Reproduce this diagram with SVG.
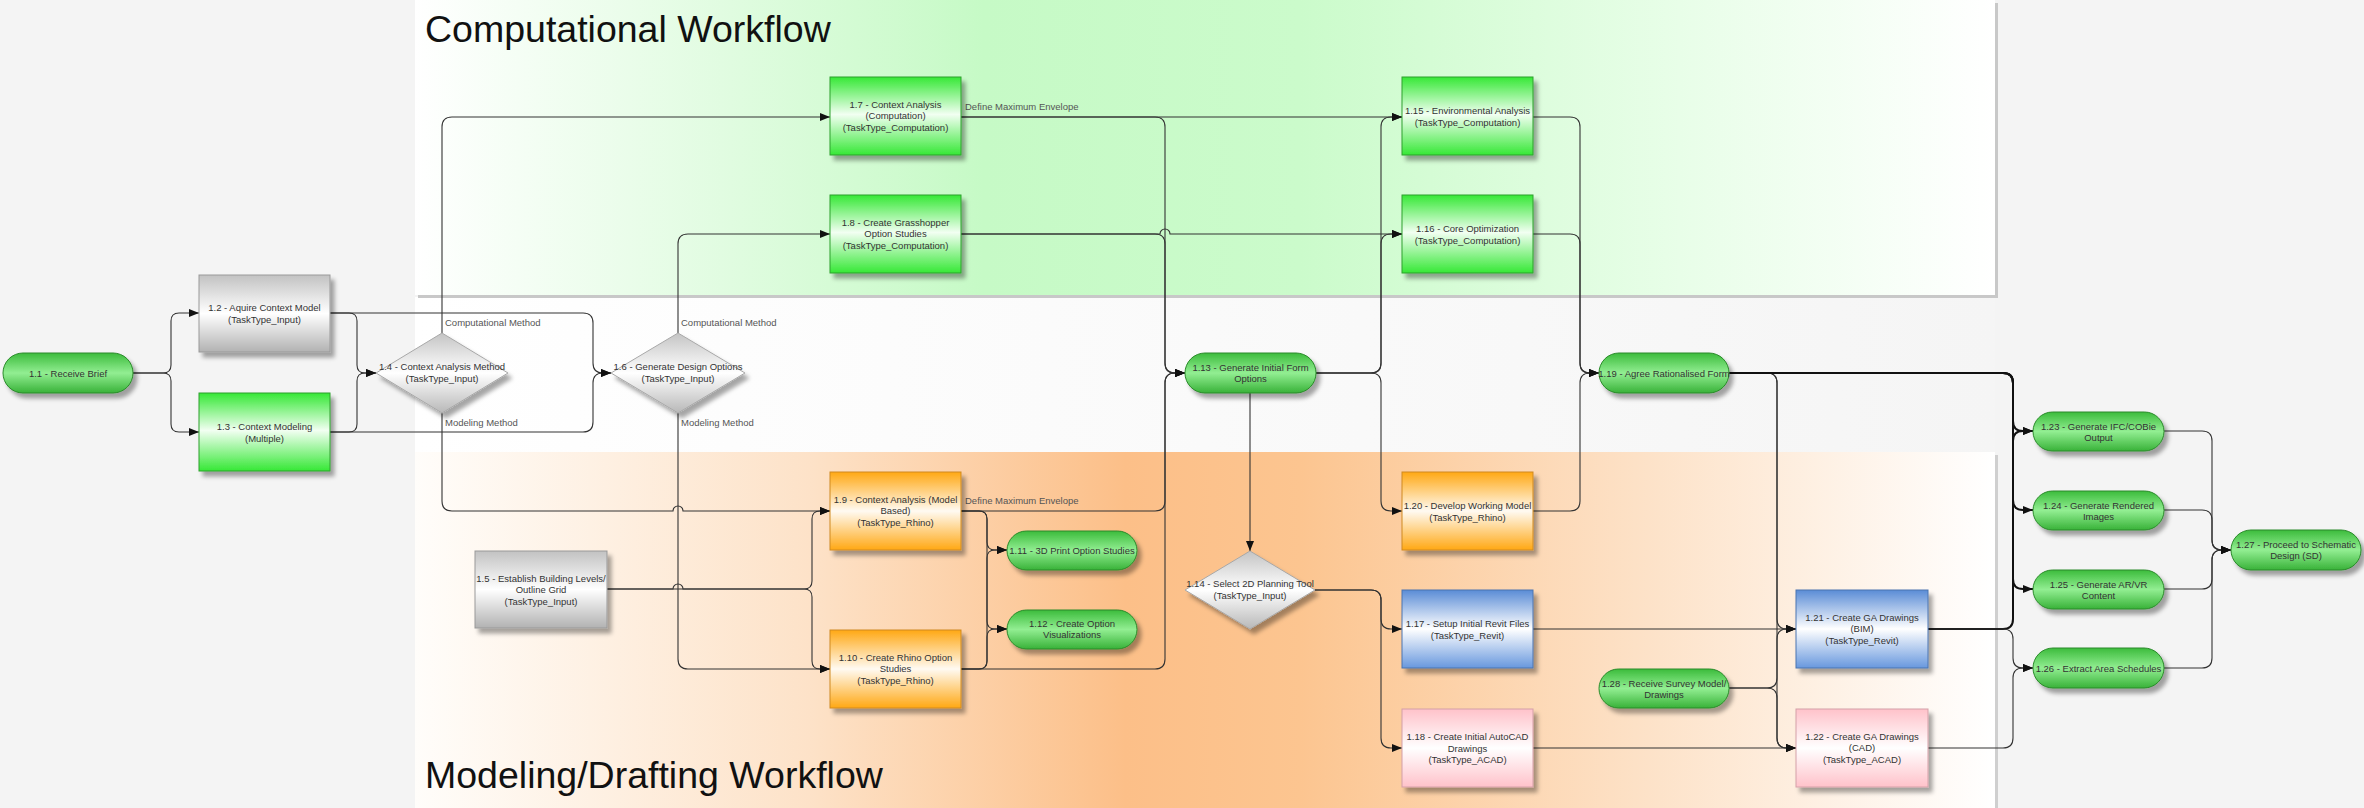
<svg xmlns="http://www.w3.org/2000/svg" width="2364" height="808" viewBox="0 0 2364 808">
<defs>
<linearGradient id="laneG" x1="0" y1="0" x2="1" y2="0">
<stop offset="0" stop-color="#ffffff"/><stop offset="0.2" stop-color="#e0fce0"/><stop offset="0.36" stop-color="#c6fac6"/><stop offset="0.56" stop-color="#cbfbcb"/><stop offset="0.8" stop-color="#e8fee8"/><stop offset="1" stop-color="#ffffff"/>
</linearGradient>
<linearGradient id="laneO" x1="0" y1="0" x2="1" y2="0">
<stop offset="0" stop-color="#fffdfa"/><stop offset="0.25" stop-color="#fde2c8"/><stop offset="0.45" stop-color="#fcbf88"/><stop offset="0.56" stop-color="#fcc590"/><stop offset="0.78" stop-color="#fde2c8"/><stop offset="1" stop-color="#ffffff"/>
</linearGradient>
<linearGradient id="laneM" x1="0" y1="0" x2="1" y2="0">
<stop offset="0" stop-color="#ffffff"/><stop offset="1" stop-color="#f5f5f5"/>
</linearGradient>
<linearGradient id="gGreen" x1="0" y1="0" x2="0" y2="1"><stop offset="0" stop-color="#36e836"/><stop offset="0.48" stop-color="#f2fff2"/><stop offset="1" stop-color="#36e836"/></linearGradient>
<linearGradient id="gGray" x1="0" y1="0" x2="0" y2="1"><stop offset="0" stop-color="#c2c2c2"/><stop offset="0.5" stop-color="#ffffff"/><stop offset="1" stop-color="#b2b2b2"/></linearGradient>
<linearGradient id="gOrange" x1="0" y1="0" x2="0" y2="1"><stop offset="0" stop-color="#ffa814"/><stop offset="0.5" stop-color="#fffaf2"/><stop offset="1" stop-color="#ffa814"/></linearGradient>
<linearGradient id="gBlue" x1="0" y1="0" x2="0" y2="1"><stop offset="0" stop-color="#5a8cd6"/><stop offset="0.5" stop-color="#ffffff"/><stop offset="1" stop-color="#6898de"/></linearGradient>
<linearGradient id="gPink" x1="0" y1="0" x2="0" y2="1"><stop offset="0" stop-color="#ffc2ca"/><stop offset="0.5" stop-color="#ffffff"/><stop offset="1" stop-color="#ffc2ca"/></linearGradient>
<linearGradient id="gPill" x1="0" y1="0" x2="0" y2="1"><stop offset="0" stop-color="#3cbc3c"/><stop offset="0.5" stop-color="#92ee92"/><stop offset="1" stop-color="#38b238"/></linearGradient>
<linearGradient id="gDia" x1="0" y1="0" x2="0" y2="1"><stop offset="0" stop-color="#c4c4c4"/><stop offset="0.5" stop-color="#ffffff"/><stop offset="1" stop-color="#b8b8b8"/></linearGradient>
<filter id="sh" x="-10%" y="-10%" width="130%" height="140%"><feDropShadow dx="4" dy="5" stdDeviation="2" flood-color="#000" flood-opacity="0.35"/></filter>
<marker id="ar" markerUnits="userSpaceOnUse" markerWidth="11" markerHeight="10" refX="10" refY="5" orient="auto"><path d="M0,1 L10,5 L0,9 z" fill="#111"/></marker>
</defs>
<style>
.n text{font-family:"Liberation Sans",Arial,sans-serif;font-size:9.5px;fill:#333;text-anchor:middle}
.lbl{font-family:"Liberation Sans",Arial,sans-serif;font-size:9.5px;fill:#555}
.title{font-family:"Liberation Sans",Arial,sans-serif;font-size:37.5px;fill:#111}
.green{fill:url(#gGreen);stroke:#2f9f2f;stroke-width:1;filter:url(#sh)}
.gray{fill:url(#gGray);stroke:#999;stroke-width:1;filter:url(#sh)}
.orange{fill:url(#gOrange);stroke:#d08a20;stroke-width:1;filter:url(#sh)}
.blue{fill:url(#gBlue);stroke:#4a74b0;stroke-width:1;filter:url(#sh)}
.pink{fill:url(#gPink);stroke:#d4a0a8;stroke-width:1;filter:url(#sh)}
.pill{fill:url(#gPill);stroke:#2a8a2a;stroke-width:1;filter:url(#sh)}
.dia{fill:url(#gDia);stroke:#a8a8a8;stroke-width:1;filter:url(#sh)}
#edges path{fill:none;stroke:#333;stroke-width:1.1}
#edges path.a{marker-end:url(#ar)}
#edges path.thick{stroke:#111;stroke-width:2}
</style>
<rect x="0" y="0" width="2364" height="808" fill="#f4f4f4"/>
<g id="lanes">
<rect x="415" y="297" width="1580" height="155" fill="url(#laneM)"/>
<rect x="418" y="3" width="1580" height="295" fill="#c8c8c8"/>
<rect x="415" y="0" width="1580" height="295" fill="url(#laneG)"/>
<rect x="418" y="455" width="1580" height="353" fill="#cfcfcf"/>
<rect x="415" y="452" width="1580" height="356" fill="url(#laneO)"/>
<text class="title" x="425" y="42">Computational Workflow</text>
<text class="title" x="425" y="788">Modeling/Drafting Workflow</text>
</g>
<g id="edges">
<path class="a" d="M133,373 H163 Q171,373 171,365 V321 Q171,313 179,313 H199"/>
<path class="a" d="M133,373 H163 Q171,373 171,381 V424 Q171,432 179,432 H199"/>
<path class="a" d="M330,313 H349 Q357,313 357,321 V365 Q357,373 365,373 H376"/>
<path class="a" d="M330,432 H349 Q357,432 357,424 V381 Q357,373 365,373 H376"/>
<path class="a" d="M330,313 H583 Q593,313 593,323 V363 Q593,373 603,373 H611"/>
<path class="a" d="M330,432 H583 Q593,432 593,422 V383 Q593,373 603,373 H611"/>
<path class="a" d="M442,333 V127 Q442,117 452,117 H830"/>
<path class="a" d="M442,413 V501 Q442,511 452,511 H673 A5,5 0 0 1 683,511 H830"/>
<path class="a" d="M678,333 V244 Q678,234 688,234 H830"/>
<path class="a" d="M678,413 V659 Q678,669 688,669 H830"/>
<path class="a" d="M607,589 H673 A5,5 0 0 1 683,589 H804 Q812,589 812,581 V519 Q812,511 820,511 H830"/>
<path class="a" d="M607,589 H804 Q812,589 812,597 V661 Q812,669 820,669 H830"/>
<path class="a" d="M961,117 H1155 Q1165,117 1165,127 V363 Q1165,373 1175,373 H1185"/>
<path class="a" d="M961,117 H1402"/>
<path class="a" d="M961,234 H1155 Q1165,234 1165,244 V363 Q1165,373 1175,373 H1185"/>
<path class="a" d="M961,234 H1160 A5,5 0 0 1 1170,234 H1402"/>
<path class="a" d="M961,511 H1155 Q1165,511 1165,501 V383 Q1165,373 1175,373 H1185"/>
<path class="a" d="M961,669 H1155 Q1165,669 1165,659 V383 Q1165,373 1175,373 H1185"/>
<path class="a" d="M961,511 H979 Q987,511 987,519 V542 Q987,550 995,550 H1007"/>
<path class="a" d="M961,511 H979 Q987,511 987,519 V621 Q987,629 995,629 H1007"/>
<path class="a" d="M961,669 H979 Q987,669 987,661 V558 Q987,550 995,550 H1007"/>
<path class="a" d="M961,669 H979 Q987,669 987,661 V637 Q987,629 995,629 H1007"/>
<path class="a" d="M1250,393 V551"/>
<path class="a" d="M1316,373 H1371 Q1381,373 1381,363 V127 Q1381,117 1391,117 H1402"/>
<path class="a" d="M1316,373 H1371 Q1381,373 1381,363 V244 Q1381,234 1391,234 H1402"/>
<path class="a" d="M1316,373 H1371 Q1381,373 1381,383 V501 Q1381,511 1391,511 H1402"/>
<path class="a" d="M1315,590 H1371 Q1381,590 1381,600 V619 Q1381,629 1391,629 H1402"/>
<path class="a" d="M1315,590 H1371 Q1381,590 1381,600 V738 Q1381,748 1391,748 H1402"/>
<path class="a" d="M1533,117 H1570 Q1580,117 1580,127 V363 Q1580,373 1590,373 H1599"/>
<path class="a" d="M1533,234 H1570 Q1580,234 1580,244 V363 Q1580,373 1590,373 H1599"/>
<path class="a" d="M1533,511 H1570 Q1580,511 1580,501 V383 Q1580,373 1590,373 H1599"/>
<path class="a" d="M1729,373 H1767 Q1777,373 1777,383 V619 Q1777,629 1787,629 H1796"/>
<path class="a" d="M1729,373 H1767 Q1777,373 1777,383 V738 Q1777,748 1787,748 H1796"/>
<path class="a" d="M1533,629 H1796"/>
<path class="a" d="M1533,748 H1796"/>
<path class="a" d="M1729,688 H1767 Q1777,688 1777,678 V639 Q1777,629 1787,629 H1796"/>
<path class="a" d="M1729,688 H1767 Q1777,688 1777,698 V738 Q1777,748 1787,748 H1796"/>
<path class="a thick" d="M1729,373 H2003 Q2013,373 2013,383 V421 Q2013,431 2023,431 H2033"/>
<path class="a thick" d="M1729,373 H2003 Q2013,373 2013,383 V500 Q2013,510 2023,510 H2033"/>
<path class="a thick" d="M1729,373 H2003 Q2013,373 2013,383 V579 Q2013,589 2023,589 H2033"/>
<path class="a thick" d="M1928,629 H2003 Q2013,629 2013,619 V441 Q2013,431 2023,431 H2033"/>
<path class="a" d="M1928,629 H2003 Q2013,629 2013,639 V658 Q2013,668 2023,668 H2033"/>
<path class="a" d="M1928,748 H2003 Q2013,748 2013,738 V678 Q2013,668 2023,668 H2033"/>
<path class="a" d="M2164,431 H2202 Q2212,431 2212,441 V540 Q2212,550 2222,550 H2231"/>
<path class="a" d="M2164,510 H2202 Q2212,510 2212,520 V540 Q2212,550 2222,550 H2231"/>
<path class="a" d="M2164,589 H2202 Q2212,589 2212,579 V560 Q2212,550 2222,550 H2231"/>
<path class="a" d="M2164,668 H2202 Q2212,668 2212,658 V560 Q2212,550 2222,550 H2231"/>
<text class="lbl" x="445" y="326">Computational Method</text>
<text class="lbl" x="445" y="426">Modeling Method</text>
<text class="lbl" x="681" y="326">Computational Method</text>
<text class="lbl" x="681" y="426">Modeling Method</text>
<text class="lbl" x="965" y="110">Define Maximum Envelope</text>
<text class="lbl" x="965" y="504">Define Maximum Envelope</text>
</g>
<g id="n1_1" class="n"><rect class="pill" x="3" y="353" width="130" height="40" rx="20"/><text x="68" y="376.5">1.1 - Receive Brief</text></g>
<g id="n1_2" class="n"><rect class="gray" x="199" y="275" width="131" height="77"/><text x="264.5" y="311"><tspan x="264.5">1.2 - Aquire Context Model</tspan><tspan x="264.5" y="323">(TaskType_Input)</tspan></text></g>
<g id="n1_3" class="n"><rect class="green" x="199" y="393" width="131" height="78"/><text x="264.5" y="429.5"><tspan x="264.5">1.3 - Context Modeling</tspan><tspan x="264.5" y="441.5">(Multiple)</tspan></text></g>
<g id="n1_4" class="n"><polygon class="dia" points="376,373 442,333 508,373 442,413"/><text x="442" y="370"><tspan x="442">1.4 - Context Analysis Method</tspan><tspan x="442" y="382">(TaskType_Input)</tspan></text></g>
<g id="n1_6" class="n"><polygon class="dia" points="611,373 678,333 745,373 678,413"/><text x="678" y="370"><tspan x="678">1.6 - Generate Design Options</tspan><tspan x="678" y="382">(TaskType_Input)</tspan></text></g>
<g id="n1_5" class="n"><rect class="gray" x="475" y="551" width="132" height="77"/><text x="541" y="581.5"><tspan x="541">1.5 - Establish Building Levels/</tspan><tspan x="541" y="593">Outline Grid</tspan><tspan x="541" y="605">(TaskType_Input)</tspan></text></g>
<g id="n1_7" class="n"><rect class="green" x="830" y="77" width="131" height="78"/><text x="895.5" y="107.5"><tspan x="895.5">1.7 - Context Analysis</tspan><tspan x="895.5" y="119">(Computation)</tspan><tspan x="895.5" y="130.5">(TaskType_Computation)</tspan></text></g>
<g id="n1_8" class="n"><rect class="green" x="830" y="195" width="131" height="78"/><text x="895.5" y="225.5"><tspan x="895.5">1.8 - Create Grasshopper</tspan><tspan x="895.5" y="237">Option Studies</tspan><tspan x="895.5" y="248.5">(TaskType_Computation)</tspan></text></g>
<g id="n1_9" class="n"><rect class="orange" x="830" y="472" width="131" height="78"/><text x="895.5" y="502.5"><tspan x="895.5">1.9 - Context Analysis (Model</tspan><tspan x="895.5" y="514">Based)</tspan><tspan x="895.5" y="525.5">(TaskType_Rhino)</tspan></text></g>
<g id="n1_10" class="n"><rect class="orange" x="830" y="630" width="131" height="78"/><text x="895.5" y="660.5"><tspan x="895.5">1.10 - Create Rhino Option</tspan><tspan x="895.5" y="672">Studies</tspan><tspan x="895.5" y="683.5">(TaskType_Rhino)</tspan></text></g>
<g id="n1_11" class="n"><rect class="pill" x="1007" y="531" width="130" height="39" rx="19.5"/><text x="1072" y="553.5">1.11 - 3D Print Option Studies</text></g>
<g id="n1_12" class="n"><rect class="pill" x="1007" y="610" width="130" height="39" rx="19.5"/><text x="1072" y="627"><tspan x="1072">1.12 - Create Option</tspan><tspan x="1072" y="638">Visualizations</tspan></text></g>
<g id="n1_13" class="n"><rect class="pill" x="1185" y="353" width="131" height="40" rx="20"/><text x="1250.5" y="371"><tspan x="1250.5">1.13 - Generate Initial Form</tspan><tspan x="1250.5" y="382">Options</tspan></text></g>
<g id="n1_14" class="n"><polygon class="dia" points="1185,590 1250,551 1315,590 1250,629"/><text x="1250" y="586.5"><tspan x="1250">1.14 - Select 2D Planning Tool</tspan><tspan x="1250" y="598.5">(TaskType_Input)</tspan></text></g>
<g id="n1_15" class="n"><rect class="green" x="1402" y="77" width="131" height="78"/><text x="1467.5" y="114"><tspan x="1467.5">1.15 - Environmental Analysis</tspan><tspan x="1467.5" y="125.5">(TaskType_Computation)</tspan></text></g>
<g id="n1_16" class="n"><rect class="green" x="1402" y="195" width="131" height="78"/><text x="1467.5" y="232"><tspan x="1467.5">1.16 - Core Optimization</tspan><tspan x="1467.5" y="243.5">(TaskType_Computation)</tspan></text></g>
<g id="n1_20" class="n"><rect class="orange" x="1402" y="472" width="131" height="78"/><text x="1467.5" y="509"><tspan x="1467.5">1.20 - Develop Working Model</tspan><tspan x="1467.5" y="520.5">(TaskType_Rhino)</tspan></text></g>
<g id="n1_17" class="n"><rect class="blue" x="1402" y="590" width="131" height="78"/><text x="1467.5" y="627"><tspan x="1467.5">1.17 - Setup Initial Revit Files</tspan><tspan x="1467.5" y="638.5">(TaskType_Revit)</tspan></text></g>
<g id="n1_18" class="n"><rect class="pink" x="1402" y="709" width="131" height="78"/><text x="1467.5" y="740"><tspan x="1467.5">1.18 - Create Initial AutoCAD</tspan><tspan x="1467.5" y="751.5">Drawings</tspan><tspan x="1467.5" y="763">(TaskType_ACAD)</tspan></text></g>
<g id="n1_19" class="n"><rect class="pill" x="1599" y="353" width="130" height="40" rx="20"/><text x="1664" y="376.5">1.19 - Agree Rationalised Form</text></g>
<g id="n1_28" class="n"><rect class="pill" x="1599" y="669" width="130" height="39" rx="19.5"/><text x="1664" y="686.5"><tspan x="1664">1.28 - Receive Survey Model/</tspan><tspan x="1664" y="697.5">Drawings</tspan></text></g>
<g id="n1_21" class="n"><rect class="blue" x="1796" y="590" width="132" height="78"/><text x="1862" y="620.5"><tspan x="1862">1.21 - Create GA Drawings</tspan><tspan x="1862" y="632">(BIM)</tspan><tspan x="1862" y="643.5">(TaskType_Revit)</tspan></text></g>
<g id="n1_22" class="n"><rect class="pink" x="1796" y="709" width="132" height="78"/><text x="1862" y="739.5"><tspan x="1862">1.22 - Create GA Drawings</tspan><tspan x="1862" y="751">(CAD)</tspan><tspan x="1862" y="762.5">(TaskType_ACAD)</tspan></text></g>
<g id="n1_23" class="n"><rect class="pill" x="2033" y="412" width="131" height="39" rx="19.5"/><text x="2098.5" y="429.5"><tspan x="2098.5">1.23 - Generate IFC/COBie</tspan><tspan x="2098.5" y="440.5">Output</tspan></text></g>
<g id="n1_24" class="n"><rect class="pill" x="2033" y="491" width="131" height="39" rx="19.5"/><text x="2098.5" y="508.5"><tspan x="2098.5">1.24 - Generate Rendered</tspan><tspan x="2098.5" y="519.5">Images</tspan></text></g>
<g id="n1_25" class="n"><rect class="pill" x="2033" y="570" width="131" height="39" rx="19.5"/><text x="2098.5" y="587.5"><tspan x="2098.5">1.25 - Generate AR/VR</tspan><tspan x="2098.5" y="598.5">Content</tspan></text></g>
<g id="n1_26" class="n"><rect class="pill" x="2033" y="648" width="131" height="40" rx="20"/><text x="2098.5" y="671.5">1.26 - Extract Area Schedules</text></g>
<g id="n1_27" class="n"><rect class="pill" x="2231" y="530" width="130" height="40" rx="20"/><text x="2296" y="548"><tspan x="2296">1.27 - Proceed to Schematic</tspan><tspan x="2296" y="559">Design (SD)</tspan></text></g>
</svg>
